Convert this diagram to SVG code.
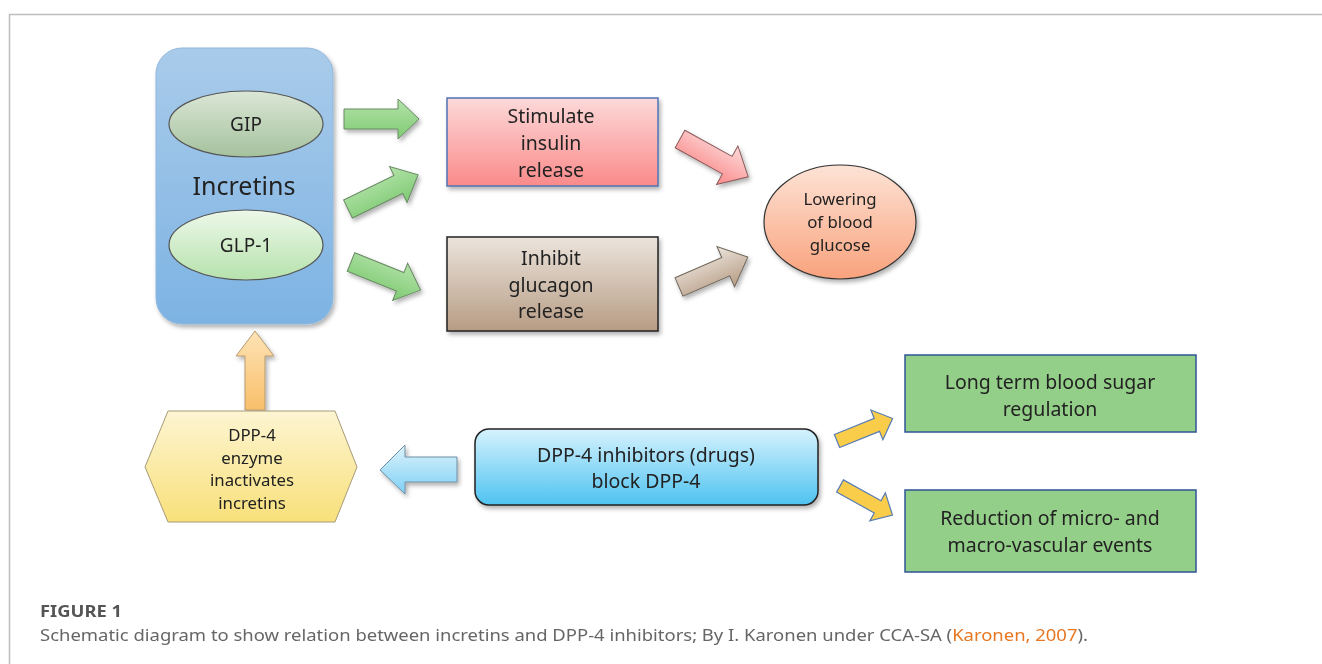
<svg xmlns="http://www.w3.org/2000/svg" width="1322" height="664" viewBox="0 0 1322 664">
<defs>
<linearGradient id="gInc" x1="0" y1="0" x2="0" y2="1"><stop offset="0" stop-color="#a9cbea"/><stop offset="1" stop-color="#7db3e3"/></linearGradient>
<linearGradient id="gGip" x1="0" y1="0" x2="0" y2="1"><stop offset="0" stop-color="#dbe6d6"/><stop offset="1" stop-color="#a5c29d"/></linearGradient>
<linearGradient id="gGlp" x1="0" y1="0" x2="0" y2="1"><stop offset="0" stop-color="#edf8e9"/><stop offset="1" stop-color="#b6e2ad"/></linearGradient>
<linearGradient id="gGreenA" x1="0" y1="0" x2="0" y2="1"><stop offset="0" stop-color="#b3e3a9"/><stop offset="1" stop-color="#7fca73"/></linearGradient>
<linearGradient id="gPink" x1="0" y1="0" x2="0" y2="1"><stop offset="0" stop-color="#fdd9d9"/><stop offset="1" stop-color="#fa8a8a"/></linearGradient>
<linearGradient id="gTan" x1="0" y1="0" x2="0" y2="1"><stop offset="0" stop-color="#ebe4dc"/><stop offset="1" stop-color="#b79c84"/></linearGradient>
<linearGradient id="gLow" x1="0" y1="0" x2="0" y2="1"><stop offset="0" stop-color="#fde3d6"/><stop offset="1" stop-color="#f9a27c"/></linearGradient>
<linearGradient id="gPeach" x1="0" y1="0" x2="0" y2="1"><stop offset="0" stop-color="#fde3b5"/><stop offset="1" stop-color="#f9bf6a"/></linearGradient>
<linearGradient id="gHex" x1="0" y1="0" x2="0" y2="1"><stop offset="0" stop-color="#fdf5d2"/><stop offset="1" stop-color="#f8e07a"/></linearGradient>
<linearGradient id="gBlueA" x1="0" y1="0" x2="0" y2="1"><stop offset="0" stop-color="#dcf2fc"/><stop offset="1" stop-color="#7fd1f5"/></linearGradient>
<linearGradient id="gDrug" x1="0" y1="0" x2="0" y2="1"><stop offset="0" stop-color="#d6f2fd"/><stop offset="1" stop-color="#4ec3f1"/></linearGradient>
<filter id="sh" x="-20%" y="-20%" width="140%" height="140%"><feDropShadow dx="2" dy="3" stdDeviation="2" flood-color="#000" flood-opacity="0.3"/></filter>
</defs>
<style>
text{font-family:"Noto Sans","Open Sans","Liberation Sans",sans-serif;fill:#222;text-anchor:middle}
.t18{font-size:19.5px}
.t16{font-size:16.8px}
.t19{font-size:19px}
.outl{stroke:#555;stroke-width:1.2}
.ga{fill:url(#gGreenA);stroke:#6a8a64;stroke-width:1}
.ya{fill:#f9cd4a;stroke:#5a7db3;stroke-width:1.2}
.gb{fill:#93cf88;stroke:#2f5597;stroke-width:1.5}
.cap{font-size:16px;text-anchor:start;fill:#666}
</style>
<rect width="1322" height="664" fill="#fff"/>
<path d="M9.5,664 V14.5 H1322" fill="none" stroke="#bdbdbd" stroke-width="1.5"/>

<g id="connectors">
<g filter="url(#sh)">
<path class="ga" transform="translate(344,119)" d="M0,-10 H54 V-20 L75,0 L54,20 V10 H0 Z"/>
<path class="ga" transform="translate(348,209) rotate(-26)" d="M0,-10 H56 V-20 L78,0 L56,20 V10 H0 Z"/>
<path class="ga" transform="translate(351,262) rotate(22)" d="M0,-10 H53 V-20 L75,0 L53,20 V10 H0 Z"/>
<path transform="translate(680,139) rotate(29)" d="M0,-10 H54 V-22 L78,0 L54,22 V10 H0 Z" fill="url(#gPink)" stroke="#8a5a5a" stroke-width="1"/>
<path transform="translate(679,287) rotate(-23.5)" d="M0,-10 H51 V-22 L75,0 L51,22 V10 H0 Z" fill="url(#gTan)" stroke="#6e6458" stroke-width="1"/>
<path d="M255,331 L274,356 L265,356 L265,410 L245,410 L245,356 L236,356 Z" fill="url(#gPeach)" stroke="#b69a70" stroke-width="1"/>
<path d="M380,470 L405,445 L405,457 L457,457 L457,482 L405,482 L405,494 Z" fill="url(#gBlueA)" stroke="#6f8ea3" stroke-width="1"/>
</g>
<path class="ya" transform="translate(837,441) rotate(-22)" d="M0,-7 H43 V-16 L60,0 L43,16 V7 H0 Z"/>
<path class="ya" transform="translate(840,486) rotate(29)" d="M0,-7 H43 V-16 L60,0 L43,16 V7 H0 Z"/>
</g>

<g id="incretins">
<rect x="156" y="48" width="177" height="276" rx="26" fill="url(#gInc)" stroke="#8fb8dc" stroke-width="1" filter="url(#sh)"/>
<text x="244" y="195" style="font-size:25px">Incretins</text>
</g>
<g id="gip">
<ellipse cx="246" cy="124" rx="77" ry="33" fill="url(#gGip)" class="outl"/>
<text class="t19" x="246" y="131">GIP</text>
</g>
<g id="glp1">
<ellipse cx="246" cy="245" rx="77" ry="35" fill="url(#gGlp)" class="outl"/>
<text class="t19" x="246" y="252">GLP-1</text>
</g>

<g id="stimulate">
<rect x="447" y="98" width="211" height="88" fill="url(#gPink)" stroke="#4f74b5" stroke-width="1.5" filter="url(#sh)"/>
<text class="t18" x="551" y="123">Stimulate</text>
<text class="t18" x="551" y="150">insulin</text>
<text class="t18" x="551" y="177">release</text>
</g>
<g id="inhibit">
<rect x="447" y="237" width="211" height="94" fill="url(#gTan)" stroke="#222" stroke-width="1.5" filter="url(#sh)"/>
<text class="t18" x="551" y="265">Inhibit</text>
<text class="t18" x="551" y="292">glucagon</text>
<text class="t18" x="551" y="318">release</text>
</g>
<g id="lowering">
<ellipse cx="840" cy="222" rx="76" ry="57" fill="url(#gLow)" stroke="#333" stroke-width="1.2" filter="url(#sh)"/>
<text class="t16" x="840" y="205">Lowering</text>
<text class="t16" x="840" y="228">of blood</text>
<text class="t16" x="840" y="251">glucose</text>
</g>

<g id="dpp4">
<polygon points="145,467 168,411 335,411 357,467 335,522 168,522" fill="url(#gHex)" stroke="#a89a78" stroke-width="1"/>
<text class="t16" x="252" y="441">DPP-4</text>
<text class="t16" x="252" y="464">enzyme</text>
<text class="t16" x="252" y="486">inactivates</text>
<text class="t16" x="252" y="509">incretins</text>
</g>

<g id="inhibitors">
<rect x="475" y="429" width="343" height="76" rx="14" fill="url(#gDrug)" stroke="#222" stroke-width="1.5" filter="url(#sh)"/>
<text class="t18" x="646" y="462">DPP-4 inhibitors (drugs)</text>
<text class="t18" x="646" y="488">block DPP-4</text>
</g>

<g id="longterm">
<rect class="gb" x="905" y="355" width="291" height="77"/>
<text class="t18" x="1050" y="389">Long term blood sugar</text>
<text class="t18" x="1050" y="416">regulation</text>
</g>
<g id="reduction">
<rect class="gb" x="905" y="490" width="291" height="82"/>
<text class="t18" x="1050" y="525">Reduction of micro- and</text>
<text class="t18" x="1050" y="552">macro-vascular events</text>
</g>

<g id="caption">
<text class="cap" x="40" y="617" style="font-weight:bold;fill:#555" textLength="82" lengthAdjust="spacingAndGlyphs">FIGURE 1</text>
<text class="cap" x="40" y="641" textLength="1048" lengthAdjust="spacingAndGlyphs">Schematic diagram to show relation between incretins and DPP-4 inhibitors; By I. Karonen under CCA-SA (<tspan style="fill:#e87722">Karonen, 2007</tspan>).</text>
</g>
</svg>
